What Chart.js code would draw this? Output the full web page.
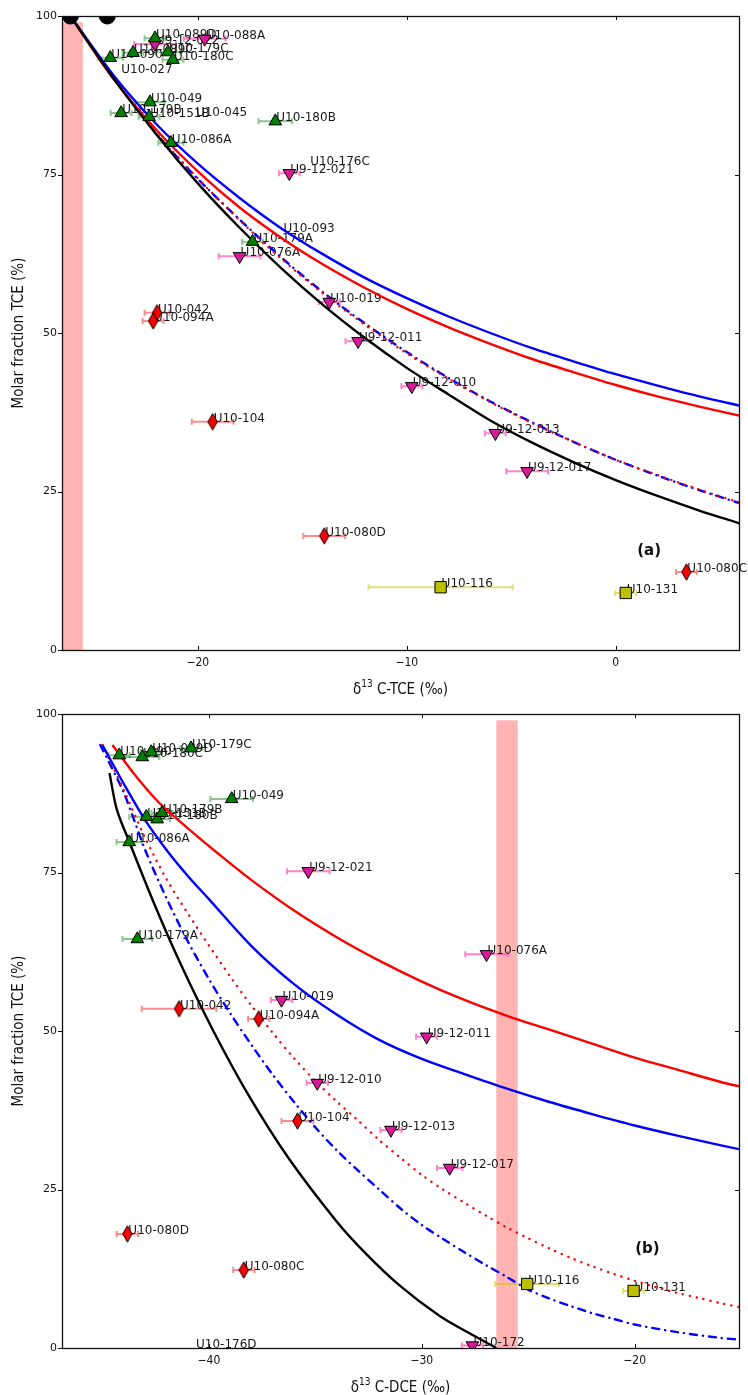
<!DOCTYPE html>
<html>
<head>
<meta charset="utf-8">
<script src="https://cdn.jsdelivr.net/npm/chart.js@4.4.1/dist/chart.umd.min.js"></script>
<style>
  body { margin: 0; background: #fff; overflow: hidden; }
  .panel { position: absolute; left: 0; width: 748px; }
</style>
</head>
<body>
<div class="panel" style="top:0;height:697px"><canvas id="chartA" width="748" height="697"></canvas></div>
<div class="panel" style="top:697px;height:698px"><canvas id="chartB" width="748" height="698"></canvas></div>
<script>
// ---- panel (a): δ13C-TCE vs molar fraction TCE ----
// [label, δ13C, fraction %, ± error]
const tceGreen = [
  ["U10-089D", -22.05, 96.5, 0.5],
  ["U10-090", -24.19, 93.4, 0.6],
  ["U10-089C", -23.10, 94.2, 0.5],
  ["U10-179C", -21.43, 94.3, 0.6],
  ["U10-180C", -21.19, 93.1, 0.5],
  ["U10-049", -22.29, 86.4, 0.7],
  ["U10-179B", -23.67, 84.7, 0.5],
  ["U10-151B", -22.33, 84.1, 0.5],
  ["U10-180B", -16.29, 83.4, 0.8],
  ["U10-086A", -21.29, 80.0, 0.6],
  ["U10-179A", -17.38, 64.4, 0.5]
];
const tceMagenta = [
  ["U10-088A", -19.67, 96.4, 1.0],
  ["U9-12-022", -22.05, 95.6, 1.0],
  ["U9-12-021", -15.62, 75.2, 0.5],
  ["U10-076A", -18.00, 62.1, 1.0],
  ["U10-019", -13.71, 54.9, 0.5],
  ["U9-12-011", -12.33, 48.7, 0.6],
  ["U9-12-010", -9.76, 41.6, 0.5],
  ["U9-12-013", -5.76, 34.2, 0.5],
  ["U9-12-017", -4.24, 28.2, 1.0]
];
const tceRed = [
  ["U10-042", -21.95, 53.2, 0.6],
  ["U10-094A", -22.14, 51.9, 0.5],
  ["U10-104", -19.29, 36.0, 1.0],
  ["U10-080D", -13.95, 18.0, 1.0],
  ["U10-080C", 3.38, 12.3, 0.5]
];
const tceYellow = [
  ["U10-116", -8.38, 9.9, 3.45],
  ["U10-131", 0.48, 9.0, 0.5]
];
const tceSource = [[-26.1, 100], [-24.33, 100]];
const tceTextOnly = [
  ["U10-176C", -14.67, 76.5],
  ["U10-093", -15.95, 65.9],
  ["U10-027", -23.71, 91.0],
  ["U10-045", -20.14, 84.2]
];
const tceBand = [-26.5, -25.5];

const tceCurveX = [-26.1, -24, -22, -20, -18, -16, -14, -12, -10, -8, -6, -4, -2, 0, 2, 4, 6];
const tceBlack = [100, 90.0, 81.4, 73.6, 66.6, 60.2, 54.4, 49.2, 44.5, 40.3, 36.2, 32.7, 29.6, 26.8, 24.3, 22.0, 19.9];
const tceBlue = [100, 90.5, 83.0, 76.7, 71.3, 66.5, 62.4, 58.7, 55.5, 52.6, 50.0, 47.6, 45.5, 43.5, 41.7, 40.0, 38.5];
const tceRedSolid = [100, 89.9, 82.1, 75.5, 69.8, 65.0, 60.8, 57.1, 53.8, 50.9, 48.3, 45.9, 43.8, 41.8, 40.0, 38.4, 36.9];
const tceRedDotted = [100, 90.2, 81.6, 74.4, 67.8, 61.7, 56.2, 51.3, 46.8, 42.8, 39.1, 35.8, 32.8, 30.0, 27.6, 25.3, 23.2];
const tceBlueDashDot = [100, 90.1, 81.5, 74.3, 67.9, 61.9, 56.4, 51.5, 47.0, 42.9, 39.2, 35.9, 32.8, 30.0, 27.5, 25.2, 23.1];

// ---- panel (b): δ13C-DCE vs molar fraction TCE ----
const dceGreen = [
  ["U10-090", -44.21, 93.5, 0.5],
  ["U10-180C", -43.13, 93.2, 0.8],
  ["U10-089D", -42.71, 94.0, 0.5],
  ["U10-179C", -40.84, 94.6, 0.5],
  ["U10-049", -38.93, 86.6, 1.0],
  ["U10-151B", -42.94, 83.8, 0.8],
  ["U10-180B", -42.43, 83.4, 0.6],
  ["U10-179B", -42.20, 84.4, 0.5],
  ["U10-086A", -43.74, 79.8, 0.6],
  ["U10-179A", -43.36, 64.5, 0.7]
];
const dceMagenta = [
  ["U9-12-021", -35.33, 75.2, 1.0],
  ["U10-076A", -26.96, 62.1, 1.0],
  ["U10-019", -36.59, 54.9, 0.5],
  ["U9-12-011", -29.77, 49.1, 0.5],
  ["U9-12-010", -34.91, 41.8, 0.5],
  ["U9-12-013", -31.45, 34.4, 0.5],
  ["U9-12-017", -28.69, 28.4, 0.6],
  ["U10-172", -27.62, 0.4, 0.5]
];
const dceRed = [
  ["U10-042", -41.40, 53.5, 1.75],
  ["U10-094A", -37.66, 51.9, 0.5],
  ["U10-104", -35.84, 35.8, 0.75],
  ["U10-080D", -43.83, 18.0, 0.5],
  ["U10-080C", -38.36, 12.3, 0.5]
];
const dceYellow = [
  ["U10-116", -25.05, 10.1, 1.5],
  ["U10-131", -20.05, 9.0, 0.5]
];
const dceTextOnly = [
  ["U10-176D", -40.65, 0.0]
];
const dceBand = [-26.5, -25.5];

const dceBlackX = [-44.67, -44.33, -43.76, -42.56, -41.25, -39.79, -38.16, -36.27, -34.01, -32.66, -31.09, -29.14, -27.59, -26.5];
const dceBlackY = [90.7, 85, 80, 70, 60, 50, 40, 30, 20, 15, 10, 5, 2, 0];
const dceBlueX = [-45.0, -44, -43, -42, -41, -40, -38, -36, -34, -32, -30, -28, -26, -24, -22, -20, -18, -16, -15];
const dceBlueY = [95.1, 89.0, 83.3, 78.6, 74.5, 70.8, 63.4, 57.4, 52.6, 48.6, 45.6, 43.2, 40.9, 38.8, 36.9, 35.1, 33.5, 32.0, 31.3];
const dceRedX = [-44.53, -43.5, -42.34, -41, -39.5, -38, -36, -34, -32, -30, -28, -26, -24, -22, -20, -18, -16, -15];
const dceRedY = [95.1, 90.5, 86.0, 82.0, 77.8, 73.8, 69.0, 64.8, 61.1, 57.8, 54.9, 52.4, 50.2, 48.0, 45.8, 43.9, 42.0, 41.2];
const dceRedDotX = [-45.0, -44, -43, -42, -41, -40, -39, -38, -37, -36, -35, -34, -33, -32, -31, -30, -29, -28, -27, -26, -25, -24, -23, -22, -21, -20, -19, -18, -17, -16, -15];
const dceRedDotY = [95.1, 88.0, 80.5, 74.0, 68.6, 63.5, 58.6, 54.0, 49.7, 45.7, 42.1, 38.9, 35.9, 32.8, 30.0, 27.3, 25.0, 22.9, 20.9, 19.0, 17.3, 15.7, 14.2, 12.9, 11.7, 10.6, 9.6, 8.7, 7.9, 7.1, 6.4];
const dceBlueDashX = [-45.1, -44, -43, -42, -41, -40, -39, -38, -37, -36, -35, -34, -33, -32, -31, -30, -29, -28, -27, -26, -25, -24, -23, -22, -21, -20, -18, -16, -15];
const dceBlueDashY = [95.1, 87.6, 78.6, 71.0, 64.2, 58.2, 52.8, 47.8, 43.1, 38.8, 34.8, 31.2, 28.0, 25.0, 22.0, 19.4, 17.2, 15.1, 13.1, 11.2, 9.2, 7.8, 6.6, 5.5, 4.6, 3.7, 2.5, 1.6, 1.3];

// ---- drawing helpers ----
function thinDiamond() {
  const c = document.createElement("canvas");
  c.width = 11; c.height = 18;
  const g = c.getContext("2d");
  g.beginPath();
  g.moveTo(5.5, 0.8); g.lineTo(10.2, 9); g.lineTo(5.5, 17.2); g.lineTo(0.8, 9);
  g.closePath();
  g.fillStyle = "#ff0000"; g.fill();
  g.strokeStyle = "#000"; g.lineWidth = 1; g.stroke();
  return c;
}
const diamondImg = thinDiamond();

function fmtTick(v) {
  return v < 0 ? "\u2212" + Math.abs(v) : String(v);
}

function pts(list) { return list.map(p => ({ x: p[1], y: p[2] })); }
function curve(xs, ys) { return xs.map((v, i) => ({ x: v, y: ys[i] })); }

function markerSet(list, kind) {
  const base = { data: pts(list), showLine: false, order: 0, pointBorderColor: "#000", pointBorderWidth: 1 };
  if (kind === "green") return Object.assign(base, { pointStyle: "triangle", pointRadius: 7.3, pointBackgroundColor: "#008000" });
  if (kind === "magenta") return Object.assign(base, { pointStyle: "triangle", pointRotation: 180, pointRadius: 7.3, pointBackgroundColor: "#d9199a" });
  if (kind === "red") return Object.assign(base, { pointStyle: diamondImg, pointRadius: 8 });
  return Object.assign(base, { pointStyle: "rect", pointRadius: 8, pointBackgroundColor: "#bfbf00" });
}

function lineSet(data, color, dash) {
  return {
    data, showLine: true, pointRadius: 0, order: 1, tension: 0.3,
    borderColor: color, borderWidth: 2.4, borderDash: dash || [],
    borderCapStyle: dash ? "round" : "butt"
  };
}

const BAR_COLORS = {
  green: "rgba(0,128,0,0.45)",
  magenta: "rgba(255,90,180,0.75)",
  red: "rgba(255,0,0,0.45)",
  yellow: "rgba(200,200,0,0.55)"
};

function panelPlugin(p) {
  return {
    id: "panelDecor",
    beforeDatasetsDraw(chart) {
      const { ctx, chartArea: a, scales: { x, y } } = chart;
      ctx.save();
      ctx.beginPath(); ctx.rect(a.left, a.top, a.right - a.left, a.bottom - a.top); ctx.clip();
      // source band
      const b0 = x.getPixelForValue(p.band[0]), b1 = x.getPixelForValue(p.band[1]);
      const yt = y.getPixelForValue(99), yb = y.getPixelForValue(0);
      ctx.fillStyle = "#ffb3b3";
      ctx.fillRect(b0, yt, b1 - b0, yb - yt);
      ctx.restore();

      ctx.save();
      // error bars
      ctx.lineWidth = 2;
      for (const g of p.groups) {
        ctx.strokeStyle = BAR_COLORS[g.kind];
        for (const q of g.list) {
          const x0 = x.getPixelForValue(q[1] - q[3]), x1 = x.getPixelForValue(q[1] + q[3]);
          const py = y.getPixelForValue(q[2]);
          ctx.beginPath();
          ctx.moveTo(x0, py); ctx.lineTo(x1, py);
          ctx.moveTo(x0, py - 3); ctx.lineTo(x0, py + 3);
          ctx.moveTo(x1, py - 3); ctx.lineTo(x1, py + 3);
          ctx.stroke();
        }
      }
      // sample labels
      ctx.font = '12px "DejaVu Sans"';
      ctx.fillStyle = "#1a1a1a";
      ctx.textAlign = "left";
      ctx.textBaseline = "middle";
      const all = p.groups.flatMap(g => g.list).concat(p.textOnly);
      for (const q of all) {
        ctx.fillText(q[0], x.getPixelForValue(q[1]) + 1, y.getPixelForValue(q[2]) - 3);
      }
      ctx.restore();
    },
    afterDraw(chart) {
      const { ctx, chartArea: a, scales: { x, y } } = chart;
      ctx.save();
      ctx.strokeStyle = "#111";
      ctx.lineWidth = 1;
      // ticks
      ctx.beginPath();
      for (const t of x.ticks) {
        const px = Math.round(x.getPixelForValue(t.value)) + 0.5;
        ctx.moveTo(px, a.bottom); ctx.lineTo(px, a.bottom - 4);
        ctx.moveTo(px, a.top); ctx.lineTo(px, a.top + 4);
      }
      for (const t of y.ticks) {
        const py = Math.round(y.getPixelForValue(t.value)) + 0.5;
        ctx.moveTo(a.left, py); ctx.lineTo(a.left - 4, py);
        ctx.moveTo(a.right, py); ctx.lineTo(a.right - 4, py);
      }
      ctx.stroke();
      // frame
      ctx.lineWidth = 1.3;
      ctx.strokeRect(Math.round(a.left) + 0.5, Math.round(a.top) + 0.5, Math.round(a.right - a.left), Math.round(a.bottom - a.top));

      // x title with superscript
      ctx.fillStyle = "#111";
      ctx.textBaseline = "alphabetic";
      const big = '15px "DejaVu Sans Condensed", "DejaVu Sans"';
      const small = '10px "DejaVu Sans Condensed", "DejaVu Sans"';
      ctx.font = big; const w1 = ctx.measureText("\u03b4").width;
      ctx.font = small; const w2 = ctx.measureText("13").width;
      ctx.font = big; const w3 = ctx.measureText(" " + p.xName).width;
      let sx = (a.left + a.right) / 2 - (w1 + w2 + w3) / 2;
      const by = a.bottom + 44;
      ctx.textAlign = "left";
      ctx.font = big; ctx.fillText("\u03b4", sx, by); sx += w1;
      ctx.font = small; ctx.fillText("13", sx, by - 7); sx += w2;
      ctx.font = big; ctx.fillText(" " + p.xName, sx, by);

      // y title
      ctx.save();
      ctx.translate(23, (a.top + a.bottom) / 2);
      ctx.rotate(-Math.PI / 2);
      ctx.textAlign = "center";
      ctx.font = big;
      ctx.fillText("Molar fraction TCE (%)", 0, 0);
      ctx.restore();

      // panel letter
      ctx.font = 'bold 15px "DejaVu Sans"';
      ctx.textAlign = "center";
      ctx.textBaseline = "middle";
      ctx.fillText(p.letter, x.getPixelForValue(p.letterAt[0]), y.getPixelForValue(p.letterAt[1]));
      ctx.restore();
    }
  };
}

function buildChart(id, p) {
  const datasets = p.groups.map(g => markerSet(g.list, g.kind)).concat(p.extra || [], p.curves);
  return new Chart(document.getElementById(id), {
    type: "scatter",
    data: { datasets },
    options: {
      responsive: false,
      animation: false,
      layout: { padding: { left: 0, right: 1, top: p.padTop, bottom: 0 } },
      plugins: { legend: { display: false }, tooltip: { enabled: false } },
      scales: {
        x: {
          type: "linear", min: p.xMin, max: p.xMax,
          grid: { display: false, drawTicks: false }, border: { display: false },
          ticks: { stepSize: 10, includeBounds: false, padding: 6, color: "#111", callback: fmtTick,
                   font: { family: '"DejaVu Sans Condensed", "DejaVu Sans"', size: 12 } },
          afterFit: s => { s.height = 47; }
        },
        y: {
          type: "linear", min: 0, max: 100,
          grid: { display: false, drawTicks: false }, border: { display: false },
          ticks: { stepSize: 25, includeBounds: false, padding: 5, color: "#111", callback: fmtTick,
                   font: { family: '"DejaVu Sans"', size: 11 } },
          afterFit: s => { s.width = 62; }
        }
      }
    },
    plugins: [panelPlugin(p)]
  });
}

buildChart("chartA", {
  padTop: 16, xMin: -26.5, xMax: 5.9, band: tceBand, xName: "C-TCE (\u2030)",
  letter: "(a)", letterAt: [1.6, 15.6],
  groups: [
    { list: tceGreen, kind: "green" },
    { list: tceMagenta, kind: "magenta" },
    { list: tceRed, kind: "red" },
    { list: tceYellow, kind: "yellow" }
  ],
  textOnly: tceTextOnly,
  extra: [{ data: tceSource.map(s => ({ x: s[0], y: s[1] })), showLine: false, order: 0,
            pointStyle: "circle", pointRadius: 8, pointBackgroundColor: "#000", pointBorderColor: "#000" }],
  curves: [
    lineSet(curve(tceCurveX, tceBlack), "#000"),
    lineSet(curve(tceCurveX, tceBlue), "#0000ff"),
    lineSet(curve(tceCurveX, tceRedSolid), "#ff0000"),
    lineSet(curve(tceCurveX, tceRedDotted), "#ff0000", [0.1, 7]),
    lineSet(curve(tceCurveX, tceBlueDashDot), "#0000ff", [7, 6, 0.1, 6])
  ]
});

buildChart("chartB", {
  padTop: 17, xMin: -46.9, xMax: -15.1, band: dceBand, xName: "C-DCE (\u2030)",
  letter: "(b)", letterAt: [-19.4, 15.6],
  groups: [
    { list: dceGreen, kind: "green" },
    { list: dceMagenta, kind: "magenta" },
    { list: dceRed, kind: "red" },
    { list: dceYellow, kind: "yellow" }
  ],
  textOnly: dceTextOnly,
  curves: [
    lineSet(curve(dceBlackX, dceBlackY), "#000"),
    lineSet(curve(dceBlueX, dceBlueY), "#0000ff"),
    lineSet(curve(dceRedX, dceRedY), "#ff0000"),
    lineSet(curve(dceRedDotX, dceRedDotY), "#ff0000", [0.1, 7]),
    lineSet(curve(dceBlueDashX, dceBlueDashY), "#0000ff", [7, 6, 0.1, 6])
  ]
});
</script>
</body>
</html>
